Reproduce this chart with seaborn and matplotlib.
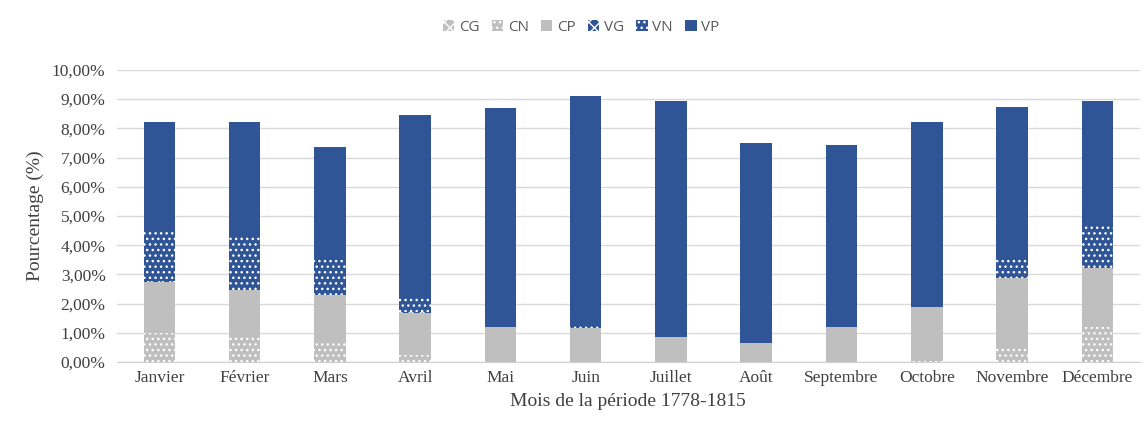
import matplotlib
matplotlib.use("Agg")
import matplotlib.pyplot as plt
from matplotlib.ticker import FuncFormatter
import numpy as np
import seaborn as sns

months = ["Janvier", "Février", "Mars", "Avril", "Mai", "Juin", "Juillet",
          "Août", "Septembre", "Octobre", "Novembre", "Décembre"]

# percentages
cg = [0.00, 0.00, 0.00, 0.00, 0.00, 0.00, 0.00, 0.00, 0.00, 0.00, 0.00, 0.00]
cn = [0.98, 0.92, 0.75, 0.25, 0.00, 0.00, 0.00, 0.00, 0.00, 0.05, 0.47, 1.19]
cp = [1.75, 1.55, 1.54, 1.42, 1.21, 1.18, 0.87, 0.64, 1.21, 1.84, 2.40, 2.02]
vg = [0.05, 0.00, 0.00, 0.05, 0.00, 0.00, 0.00, 0.00, 0.00, 0.00, 0.00, 0.00]
vn = [1.77, 1.88, 1.23, 0.52, 0.00, 0.05, 0.00, 0.05, 0.00, 0.00, 0.65, 1.45]
vp = [3.68, 3.88, 3.85, 6.22, 7.48, 7.86, 8.05, 6.80, 6.22, 6.34, 5.22, 4.26]

series = ["CG", "CN", "CP", "VG", "VN", "VP"]
values = [cg, cn, cp, vg, vn, vp]

GRAY = "#bfbfbf"
BLUE = "#2f5597"
TXT = "#595959"
styles = {
    "CG": dict(color=GRAY, hatch="xxx", edgecolor="white"),
    "CN": dict(color=GRAY, hatch="...", edgecolor="white"),
    "CP": dict(color=GRAY, hatch=None, edgecolor=GRAY),
    "VG": dict(color=BLUE, hatch="xxx", edgecolor="white"),
    "VN": dict(color=BLUE, hatch="...", edgecolor="white"),
    "VP": dict(color=BLUE, hatch=None, edgecolor=BLUE),
}

sns.set_style("white")
plt.rcParams["hatch.linewidth"] = 1.0

fig = plt.figure(figsize=(11.44, 4.26), dpi=100)
ax = fig.add_axes([0.102, 0.150, 0.8945, 0.686])

bottom = np.zeros(len(months))
for name, vals in zip(series, values):
    st = styles[name]
    sns.barplot(x=months, y=vals, bottom=bottom, color=st["color"],
                saturation=1, hatch=st["hatch"], edgecolor=st["edgecolor"],
                linewidth=0, width=0.37, errorbar=None, label=name, ax=ax,
                zorder=3)
    bottom = bottom + np.array(vals)

if ax.get_legend() is not None:
    ax.get_legend().remove()

ax.set_ylim(0, 10)
ax.set_yticks(np.arange(0, 11, 1))
ax.yaxis.set_major_formatter(FuncFormatter(lambda v, _: f"{v:.2f}%".replace(".", ",")))
ax.set_xlim(-0.5, len(months) - 0.5)
ax.grid(axis="y", color="#d9d9d9", linewidth=1, zorder=0)
ax.set_axisbelow(True)
for s in ["top", "right", "left"]:
    ax.spines[s].set_visible(False)
ax.spines["bottom"].set_color("#d0d0d0")

ax.set_xticks(np.arange(-0.5, len(months), 1), minor=True)
ax.tick_params(axis="x", which="major", length=0, pad=6)
ax.tick_params(axis="x", which="minor", length=5, color="#d0d0d0", direction="out")
ax.tick_params(axis="y", length=0, pad=8)

serif = ["Liberation Serif", "DejaVu Serif"]
for lab in ax.get_xticklabels() + ax.get_yticklabels():
    lab.set_family(serif)
    lab.set_fontsize(12.5)
    lab.set_color("#404040")

ax.set_xlabel("Mois de la période 1778-1815", family=serif, fontsize=14,
              color="#404040", labelpad=5)
ax.set_ylabel("Pourcentage (%)", family=serif, fontsize=14,
              color="#404040", labelpad=6)

handles, labels = ax.get_legend_handles_labels()
leg = fig.legend(handles, labels, loc="upper center", bbox_to_anchor=(0.508, 0.985),
                 ncol=6, frameon=False, handlelength=0.75,
                 handleheight=0.75, handletextpad=0.3, columnspacing=0.8,
                 prop={"family": "Open Sans", "size": 11})
for t in leg.get_texts():
    t.set_color(TXT)

fig.savefig("out.png", dpi=100)
